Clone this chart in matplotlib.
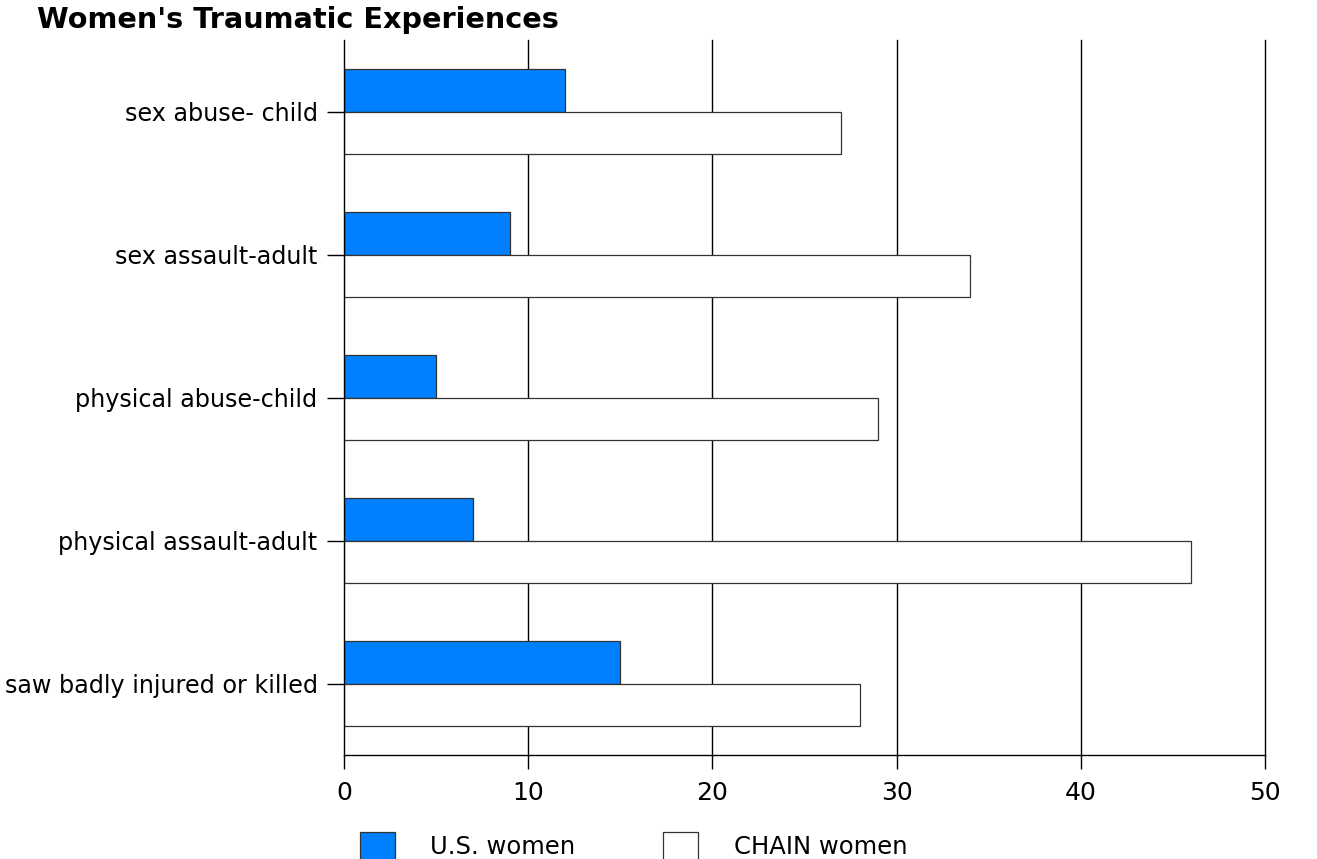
import numpy as np
import matplotlib; matplotlib.use("Agg"); import matplotlib.pyplot as plt
from matplotlib.patches import Patch
plt.rcParams.update({"font.family":["DejaVu Sans"],"font.size":16})

categories=["sex abuse- child","sex assault-adult","physical abuse-child","physical assault-adult","saw badly injured or killed"]
us_women=[12,9,5,7,15]
chain_women=[27,34,29,46,28]
xticks=[0,10,20,30,40,50]

fig=plt.figure(figsize=(13.17,8.59),dpi=100)
ax=fig.add_axes([344/1317,1-755/859,921/1317,715/859])
y=np.arange(len(categories)); h=0.3
for xv in xticks[1:]:
    ax.axvline(xv,color="black",lw=1,zorder=0,clip_on=False)
ax.barh(y-h/2,us_women,height=h,color="#0080ff",edgecolor="#333333",lw=0.9,zorder=2,label="U.S. women")
ax.barh(y+h/2,chain_women,height=h,color="white",edgecolor="#333333",lw=0.9,zorder=2,label="CHAIN women")
ax.set_ylim(len(categories)-0.5,-0.5); ax.set_xlim(0,50)
ax.set_yticks(y); ax.set_yticklabels(categories,fontsize=17.2)
ax.set_xticks(xticks); ax.set_xticklabels([str(v) for v in xticks],fontsize=18)
for s in ["top","right"]: ax.spines[s].set_visible(False)
for s in ["left","bottom"]: ax.spines[s].set_linewidth(1)
ax.tick_params(axis="y",length=12,width=1,pad=7)
ax.tick_params(axis="x",length=10,width=1,pad=9,direction="out")

fig.text(37/1317,1-20/859,"Women's Traumatic Experiences",fontsize=20.7,fontweight="bold",va="center",ha="left")

handles=[Patch(facecolor="#0080ff",edgecolor="#333333",lw=0.9),Patch(facecolor="white",edgecolor="#333333",lw=0.9)]
fig.legend(handles,["U.S. women","CHAIN women"],loc="upper left",bbox_to_anchor=(360/1317,1-832/859),ncol=2,
           frameon=False,fontsize=17.5,handlelength=1.45,handleheight=1.45,handletextpad=1.45,columnspacing=3.6,borderaxespad=0,borderpad=0)
fig.savefig("out.png",dpi=100)
